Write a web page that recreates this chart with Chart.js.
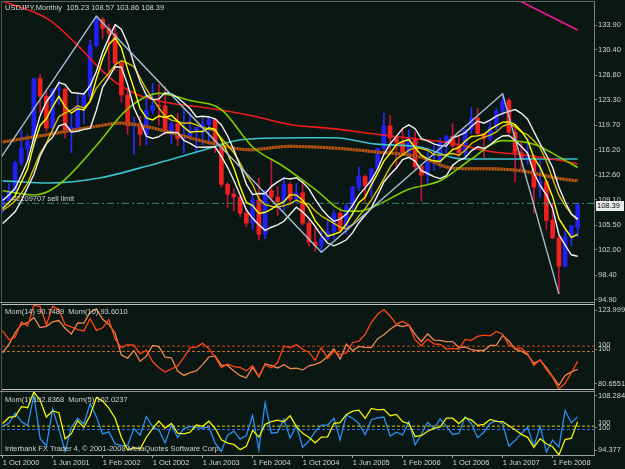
<!DOCTYPE html>
<html>
<head>
<meta charset="utf-8">
<title>USDJPY Monthly</title>
<script src="https://cdn.jsdelivr.net/npm/chart.js@4.4.1/dist/chart.umd.min.js"></script>
<style>
  html, body { margin:0; padding:0; background:#0a1713; }
  #wrap { position:relative; width:625px; height:469px; overflow:hidden; background:#0a1713; }
  #wrap canvas { position:absolute; left:0; }
  .txt { position:absolute; font-family:'Liberation Sans', Arial, sans-serif; font-size:7.5px; line-height:9px; color:#d2d2d2; white-space:pre; }
  .hl { position:absolute; height:1px; }
  .vl { position:absolute; width:1px; }
</style>
</head>
<body>
<div id="wrap">
  <canvas id="cMain" width="625" height="306" style="top:0;width:625px;height:306px"></canvas>
  <canvas id="cMomA" width="625" height="88" style="top:302px;width:625px;height:88px"></canvas>
  <canvas id="cMomB" width="625" height="79" style="top:390px;width:625px;height:79px"></canvas>
  <div class="hl" style="left:2px;top:1px;width:592px;background:#5e6662"></div>
  <div class="vl" style="left:1px;top:1px;height:455px;background:#4c5450"></div>
  <div class="vl" style="left:594px;top:1px;height:455px;background:#7c7c7c"></div>
  <div class="hl" style="left:0;top:302px;width:595px;background:#8e8e8e"></div>
  <div class="hl" style="left:2px;top:304px;width:592px;background:#c0c0c0"></div>
  <div class="hl" style="left:2px;top:389px;width:592px;background:#c0c0c0"></div>
  <div class="hl" style="left:0;top:391px;width:595px;background:#8e8e8e"></div>
  <div class="hl" style="left:0;top:455px;width:595px;background:#a0a0a0"></div>
  <div id="tTitle" class="txt" style="left:5px;top:3px"></div>
  <div id="tOrder" class="txt" style="left:12px;top:194px"></div>
  <div id="tMomA" class="txt" style="left:5px;top:307px"></div>
  <div id="tMomB" class="txt" style="left:5px;top:395px"></div>
  <div id="tCopy" class="txt" style="left:5px;top:444px"></div>
  <div id="tLast" class="txt" style="left:596px;top:201px;width:27px;height:10px;line-height:10px;background:#eeeeee;color:#000;padding-left:1px"></div>
</div>
<script>
// ---------------- DATA (monthly USDJPY, Oct 2000 .. Jun 2008) ----------------
const symbolName = 'USDJPY';
const periodName = 'Monthly';
const orderLabel = '#2109707 sell limit';
const momALabel = 'Mom(14) 90.7489  Mom(10) 93.6010';
const momBLabel = 'Mom(1) 102.8368  Mom(5) 102.0237';
const copyrightLabel = 'Interbank FX Trader 4, \u00A9 2001-2008 MetaQuotes Software Corp.';

const opens = [108.1,108.9,110.4,114.4,116.4,117.4,126.3,123.8,119.3,124.7,
  124.8,118.8,119.4,122.4,123.9,131.0,134.7,133.4,132.7,128.5,
  124.0,119.6,119.9,118.4,121.8,122.5,122.4,118.8,119.9,117.8,
  118.1,118.9,119.4,119.8,120.5,116.9,111.3,109.9,109.5,107.2,
  105.8,109.1,104.2,110.4,109.5,108.8,111.3,109.2,110.1,105.8,
  103.1,102.6,103.6,104.6,107.2,104.8,108.2,110.9,112.4,111.1,
  113.5,116.4,119.6,117.9,117.2,115.8,117.8,113.8,112.6,114.4,
  114.6,117.3,118.1,116.8,115.8,119.1,120.7,118.5,117.8,119.4,
  121.7,123.2,118.7,115.8,114.8,115.3,110.9,111.7,106.2,103.7,
  99.7,103.9,105.23];
const highs = [109.6,111.4,114.6,119.0,118.4,126.3,126.9,124.5,124.9,126.0,
  125.0,121.2,124.0,124.4,131.8,135.15,135.0,134.0,133.8,128.6,
  125.0,120.8,121.0,124.2,125.6,125.5,125.2,120.2,121.4,121.9,
  121.4,119.4,120.7,120.9,120.6,117.0,111.6,110.7,109.6,107.8,
  109.7,112.2,110.5,114.9,111.0,112.3,111.6,111.4,111.6,106.4,
  105.1,104.8,106.4,107.6,108.0,108.6,111.0,113.7,112.7,113.6,
  116.4,121.4,121.1,118.0,119.2,119.0,118.7,114.0,116.5,117.0,
  117.8,118.3,119.9,118.0,119.1,122.2,122.1,118.5,120.1,122.0,
  124.14,123.5,119.8,117.4,117.9,115.4,114.7,111.9,108.6,104.0,
  104.7,105.5,108.57];
const lows = [107.3,108.4,110.0,114.0,114.6,116.5,121.5,118.8,118.6,122.6,
  117.9,115.8,119.3,119.9,123.3,130.8,132.0,126.3,127.5,123.0,
  118.4,115.6,116.8,116.9,121.3,119.7,118.4,117.0,116.8,115.8,
  117.6,115.7,116.9,117.0,115.8,110.9,108.0,107.5,106.7,105.3,
  104.9,103.4,103.6,108.9,106.9,107.5,108.4,108.6,105.5,102.5,
  101.8,101.68,103.4,103.5,104.4,104.2,106.8,110.4,108.8,109.5,
  113.4,116.1,115.7,113.4,115.5,115.0,113.4,108.9,111.4,113.3,
  113.6,115.4,116.3,114.8,115.3,118.5,118.2,115.1,117.5,118.9,
  121.1,118.5,111.6,113.3,114.1,107.2,109.5,104.9,103.6,95.77,
  99.6,102.6,103.86];
const closes = [108.9,110.4,114.4,116.4,117.4,126.3,123.8,119.3,124.7,124.8,
  118.8,119.4,122.4,123.9,131.0,134.7,133.4,132.7,128.5,124.0,
  119.6,119.9,118.4,121.8,122.5,122.4,118.8,119.9,117.8,118.1,
  118.9,119.4,119.8,120.5,116.9,111.3,109.9,109.5,107.2,105.8,
  109.1,104.2,110.4,109.5,108.8,111.3,109.2,110.1,105.8,103.1,
  102.6,103.6,104.6,107.2,104.8,108.2,110.9,112.4,111.1,113.5,
  116.4,119.6,117.9,117.2,115.8,117.8,113.8,112.6,114.4,114.6,
  117.3,118.1,116.8,115.8,119.1,120.7,118.5,117.8,119.4,121.7,
  123.2,118.7,115.8,114.8,115.3,110.9,111.7,106.2,103.7,99.7,
  103.9,105.4,108.39];

// moving averages (one value per month)
const sma5Close = [107.86,108.72,109.70,111.64,113.50,116.98,119.66,120.64,122.30,123.78,
  122.28,121.40,122.02,121.86,123.10,126.28,129.08,131.14,132.06,130.66,
  127.64,124.94,122.08,120.74,120.44,121.00,120.78,121.08,120.28,119.40,
  118.70,118.82,118.80,119.34,119.10,117.58,115.68,113.62,110.96,108.74,
  108.30,107.16,107.34,107.80,108.40,108.84,109.84,109.78,109.04,107.90,
  106.16,105.04,103.94,104.22,104.56,105.68,107.14,108.70,109.48,111.22,
  112.86,114.60,115.70,116.92,117.38,117.66,116.50,115.44,114.88,114.64,
  114.54,115.40,116.24,116.52,117.42,118.10,118.18,118.38,119.10,119.62,
  120.12,120.16,119.76,118.84,117.56,115.10,113.70,111.78,109.56,106.44,
  105.04,103.78,104.22];
const sma8Close = [107.59,108.19,108.96,110.06,111.48,113.58,115.71,117.11,119.09,120.89,
  121.44,121.81,122.44,122.14,123.04,124.96,126.05,127.04,128.25,128.83,
  128.48,127.98,126.40,124.79,123.43,122.14,120.93,120.41,120.19,119.96,
  120.03,119.73,119.39,119.15,118.91,117.84,116.85,115.78,114.31,112.61,
  111.28,109.24,108.43,108.20,108.06,108.29,108.54,109.08,108.66,108.53,
  107.55,106.81,106.29,105.78,105.23,104.99,105.63,106.79,107.85,109.09,
  110.56,112.11,113.75,114.88,115.49,116.16,116.50,116.39,116.14,115.51,
  115.44,115.55,115.68,115.43,116.09,117.10,117.61,118.01,118.28,118.73,
  119.53,119.89,119.48,118.74,118.34,117.48,116.51,114.58,112.14,109.76,
  108.28,107.10,106.24];
const sma5High = [109.00,109.80,110.74,112.60,114.60,117.94,121.04,123.02,124.20,125.72,
  125.46,124.32,124.22,124.12,125.28,127.31,130.07,132.07,133.95,133.31,
  131.29,128.44,125.84,123.92,123.32,123.42,124.30,124.14,123.58,122.84,
  122.02,120.86,120.96,120.86,120.60,119.72,118.16,116.16,113.90,111.34,
  109.88,110.00,109.96,111.02,111.66,112.18,112.06,112.24,111.58,110.66,
  109.22,107.86,106.86,106.06,106.38,107.08,108.32,109.78,110.80,111.92,
  113.48,115.56,117.04,118.10,119.22,119.74,119.20,117.78,117.48,117.04,
  116.80,116.72,117.90,118.20,118.62,119.50,120.26,119.98,120.40,120.98,
  121.37,121.65,121.91,121.37,120.55,118.80,117.04,115.46,113.70,110.92,
  108.80,107.10,106.43];
const sma5Low = [105.74,106.56,107.40,109.00,110.86,112.70,115.32,117.08,118.00,119.60,
  119.88,118.74,118.84,119.10,119.24,121.82,125.06,126.46,127.98,127.92,
  125.44,122.16,120.26,118.14,117.80,118.06,118.62,118.66,118.64,117.54,
  117.12,116.58,116.56,116.60,116.60,115.26,113.72,111.84,109.78,107.68,
  106.48,105.56,104.78,105.22,105.54,106.06,107.06,108.06,107.38,106.50,
  105.36,104.02,102.98,102.58,102.96,103.44,104.46,105.86,106.92,107.94,
  109.78,111.64,112.70,113.62,114.82,115.14,114.60,113.24,112.84,112.40,
  112.12,112.52,114.00,114.68,115.08,116.06,116.62,116.38,116.92,117.64,
  118.16,118.22,117.52,116.68,115.72,112.94,111.14,109.80,107.86,104.19,
  102.67,101.31,101.11];

// slow lines, sampled [month index, price]
const maRedPts = [[0,137.3],[7.5,134.6],[12.8,130.3],[15,128.2],[18.2,125.7],[21.9,123.9],[26.2,122.9],[33,122.1],[39.5,121.1],[45.9,119.8],[52.8,119.2],[59.8,118.4],[66.7,117.7],[71.5,117.2],[78,115.95],[83.2,115.5],[88.6,114.8],[92,114.2]];
const maCyanPts = [[0,111.8],[7.5,111.5],[15.5,112.2],[21.9,113.6],[32.3,116.2],[37.9,117.6],[47.5,117.9],[53,117.9],[59.8,117.0],[66.7,116.6],[73.6,114.9],[82.7,114.9],[92,114.9]];
const maBrownPts = [[0,117.3],[7.5,118.4],[15.5,119.6],[18.7,120.0],[23.5,119.4],[28.3,118.3],[33.1,117.2],[39.5,116.2],[45.9,116.7],[52.8,116.45],[59.8,115.9],[66.7,115.2],[72,113.6],[77.9,113.5],[83.2,113.2],[88.6,112.2],[92,111.8]];
const maGreenPts = [[0,110.4],[5,109.8],[7.5,110.4],[10,112.0],[15,116.8],[20,122.0],[25,124.2],[30,123.2],[35,121.9],[40,116.6],[45,113.8],[50,110.6],[55,107.5],[57,107.5],[60,108.4],[65,110.6],[70,111.8],[75,114.9],[80,117.5],[85,117.0],[90,114.7],[92,113.7]];
const maMagentaPts = [[76,140.3],[92,133.2]];
const zigzagPts = [[-11,101.0],[15,135.15],[51,101.68],[80,124.14],[89,95.77]];
const sellLimitPrice = 108.61;

// momentum indicators
const mom1 = [100.74,101.38,103.62,101.75,100.86,107.58,98.02,96.37,104.53,100.08,
  95.19,100.51,102.51,101.23,105.73,102.82,99.03,99.48,96.83,96.50,
  96.45,100.25,98.75,102.87,100.57,99.92,97.06,100.93,98.25,100.25,
  100.68,100.42,100.34,100.58,97.01,95.21,98.74,99.64,97.90,98.69,
  103.12,95.51,105.95,99.18,99.36,102.30,98.11,100.82,96.09,97.45,
  99.52,100.97,100.97,102.49,97.76,103.24,102.50,101.35,98.84,102.16,
  102.56,102.75,98.58,99.41,98.81,101.73,96.60,98.95,101.60,100.17,
  102.36,100.68,98.90,99.14,102.85,101.34,98.18,99.41,101.36,101.93,
  101.23,96.35,97.56,99.14,100.44,96.18,100.72,95.08,97.65,96.14,
  104.21,101.44,102.84];
const mom5 = [101.21,104.05,104.47,109.09,108.60,115.98,112.14,104.28,107.13,106.30,
  94.06,96.45,102.60,99.36,104.97,113.38,111.73,108.42,103.71,94.66,
  88.79,89.88,89.22,94.79,98.79,102.34,99.08,101.27,96.72,96.41,
  97.14,100.51,99.92,102.29,98.98,93.61,92.04,91.40,88.96,90.50,
  98.02,94.81,100.82,102.15,102.84,102.02,104.80,99.73,96.62,94.76,
  92.18,94.87,95.00,101.32,101.65,105.46,107.05,107.46,103.64,108.30,
  107.58,107.84,104.89,105.49,102.03,101.20,95.15,95.50,97.61,98.96,
  99.58,103.78,103.73,101.22,103.93,102.90,100.34,100.86,103.11,102.18,
  102.07,100.17,98.30,96.15,94.74,90.02,94.10,91.71,90.33,86.47,
  93.69,94.36,102.06];
const mom10 = [106.56,102.79,103.81,110.23,108.50,117.38,116.68,108.95,116.87,115.45,
  109.09,108.15,106.99,106.44,111.58,106.65,107.75,111.23,103.05,99.36,
  100.67,100.42,96.73,98.31,93.51,90.87,89.06,90.35,91.67,95.24,
  99.41,99.58,101.18,98.93,95.43,90.93,92.51,91.33,91.00,89.59,
  91.76,87.27,92.15,90.87,93.07,100.00,99.36,100.55,98.69,97.45,
  94.04,99.42,94.75,97.90,96.32,97.21,101.56,102.09,105.01,110.09,
  113.45,115.44,112.72,109.33,110.50,108.87,102.61,100.18,102.97,100.97,
  100.77,98.75,99.07,98.81,102.85,102.46,104.13,104.62,104.37,106.20,
  105.03,100.51,99.14,99.14,96.81,91.88,94.26,90.15,86.85,81.92,
  84.33,88.80,93.60];
const mom14 = [99.36,103.66,109.58,113.89,114.87,117.60,112.34,112.97,115.25,115.99,
  111.97,109.04,114.71,114.62,120.29,122.01,116.61,114.00,109.45,98.18,
  96.61,100.50,94.95,97.60,103.11,102.51,97.06,96.77,89.92,87.68,
  89.13,89.98,93.23,97.18,97.74,92.83,92.82,89.90,87.51,86.44,
  91.84,86.91,93.72,92.72,91.51,93.22,91.15,91.37,90.50,92.63,
  93.36,94.61,97.57,101.32,96.06,103.84,100.45,102.65,102.11,101.98,
  106.59,108.63,111.44,113.68,112.87,113.71,108.80,105.04,109.16,105.91,
  105.77,105.07,105.13,102.03,102.32,100.92,100.51,100.51,103.11,103.31,
  108.26,105.42,101.22,100.17,98.29,93.90,95.63,91.71,87.07,82.60,
  87.68,89.47,90.78];
const momLevel = 100;

// axis tick labels
const priceTickLabels = ['133.90','130.40','126.80','123.30','119.70','116.20','112.60','109.10','105.50','102.00','98.40','94.90'];
const momATickLabels = ['123.9992','100','80.6551'];
const momBTickLabels = ['108.2845','100','94.377'];
const dateTickLabels = ['1 Oct 2000','1 Jun 2001','1 Feb 2002','1 Oct 2002','1 Jun 2003','1 Feb 2004','1 Oct 2004','1 Jun 2005','1 Feb 2006','1 Oct 2006','1 Jun 2007','1 Feb 2008'];
const dateTickIndex = [0,8,16,24,32,40,48,56,64,72,80,88];

// ---------------- CHART ----------------
Chart.defaults.font.family = "'Liberation Sans', Arial, sans-serif";
Chart.defaults.font.size = 7.5;
Chart.defaults.color = '#d2d2d2';

const X_MIN = -0.1, X_MAX = 94.62, AXIS_W = 31;
const TXT = '#d2d2d2', AXC = '#7c7c7c';
const UP = '#2020f2', DN = '#f22020', UP_WICK = '#2a2aff', DN_WICK = '#c0143c';
const idx = closes.map((_, i) => i);
const series = arr => arr.map((v, i) => ({ x: i, y: v }));
const pts = arr => arr.map(p => ({ x: p[0], y: p[1] }));
const isUp = i => closes[i] >= opens[i];
const flat = v => [{ x: X_MIN, y: v }, { x: X_MAX, y: v }];

const xHidden = { type: 'linear', min: X_MIN, max: X_MAX, display: false, offset: false };

function zeroPad(s) { s.paddingTop = 0; s.paddingBottom = 0; s.paddingLeft = 0; s.paddingRight = 0; }
function rightAxis(min, max, tickVals, labels) {
  return {
    position: 'right', min: min, max: max,
    afterFit: s => { s.width = AXIS_W; zeroPad(s); },
    afterBuildTicks: s => { s.ticks = tickVals.map(v => ({ value: v })); },
    ticks: { callback: (v, i) => labels[i], color: TXT, padding: 1, autoSkip: false, font: { size: 7.5 } },
    grid: { drawOnChartArea: false, drawTicks: true, tickLength: 3, color: AXC },
    border: { display: true, color: AXC }
  };
}
function line(data, color, width, order, extra) {
  return Object.assign({ type: 'line', data: data, borderColor: color, borderWidth: width, pointRadius: 0,
    fill: false, tension: 0, order: order }, extra || {});
}
const smooth = { cubicInterpolationMode: 'monotone' };

const levelLabels = {
  id: 'levelLabels',
  afterDraw(chart, args, opts) {
    if (!opts || !opts.items) return;
    const ctx = chart.ctx;
    ctx.save();
    ctx.font = "7.5px 'Liberation Sans', Arial, sans-serif";
    ctx.fillStyle = TXT; ctx.textAlign = 'left'; ctx.textBaseline = 'middle';
    opts.items.forEach(it => {
      const y = chart.scales[it.axis].getPixelForValue(it.value) + it.dy;
      ctx.fillText(it.text, chart.chartArea.right + 4, y);
    });
    ctx.restore();
  }
};

const common = { responsive: false, animation: false, events: [],
  plugins: { legend: { display: false }, tooltip: { enabled: false } } };

// main price chart
const PRICE_MIN = 94.758, PRICE_MAX = 137.162;
new Chart(document.getElementById('cMain'), {
  type: 'bar',
  data: { datasets: [
    { type: 'bar', data: idx.map(i => ({ x: i, y: [lows[i], highs[i]] })), backgroundColor: c => isUp(c.dataIndex) ? UP_WICK : DN_WICK,
      barThickness: 1, grouped: false, minBarLength: 1, order: 30 },
    { type: 'bar', data: idx.map(i => ({ x: i, y: [opens[i], closes[i]] })), backgroundColor: c => isUp(c.dataIndex) ? UP : DN,
      barThickness: 4, grouped: false, minBarLength: 1, order: 29 },
    line(pts(maBrownPts), '#c0601a', 3, 13, smooth),
    line(pts(maBrownPts), '#7c3508', 3, 12, Object.assign({ borderDash: [1.5, 1.5] }, smooth)),
    line(pts(maCyanPts), '#3cc2cc', 1.6, 11, smooth),
    line(pts(maRedPts), '#f01c1c', 1.6, 10, smooth),
    line(pts(maMagentaPts), '#f0188c', 1.6, 10),
    line(pts(maGreenPts), '#7ccc00', 1.6, 9, smooth),
    line(flat(sellLimitPrice), '#3a8a6c', 1, 8, { borderDash: [7, 3, 2, 3] }),
    line(series(sma8Close), '#d8c000', 1.4, 6),
    line(series(sma5Close), '#ffff00', 1.4, 5),
    line(series(sma5High), '#f2f2f2', 1.4, 4),
    line(series(sma5Low), '#f2f2f2', 1.4, 4),
    line(pts(zigzagPts), '#a2bece', 1.4, 3)
  ] },
  options: Object.assign({}, common, {
    layout: { padding: { left: 2, top: 2, right: 0, bottom: 5 } },
    scales: {
      x: xHidden,
      y: rightAxis(PRICE_MIN, PRICE_MAX, priceTickLabels.map(Number), priceTickLabels)
    }
  })
});

// Mom(14) / Mom(10) panel
const A_MIN = 80.6551, A_MAX = 123.9992, A_H = 84, A_PPU = A_H / (A_MAX - A_MIN);
const A10_MIN = 81.92, A10_MAX = 117.38;
new Chart(document.getElementById('cMomA'), {
  type: 'line',
  data: { datasets: [
    line(flat(momLevel), '#c8401a', 1, 6, { yAxisID: 'y2', borderDash: [3, 2] }),
    line(flat(momLevel), '#c8682e', 1, 5, { yAxisID: 'y', borderDash: [3, 2] }),
    line(series(mom14), '#f08850', 1.3, 2, { yAxisID: 'y' }),
    line(series(mom10), '#ff4612', 1.3, 1, { yAxisID: 'y2' })
  ] },
  plugins: [levelLabels],
  options: Object.assign({}, common, {
    plugins: Object.assign({}, common.plugins, { levelLabels: { items: [{ axis: 'y2', value: momLevel, dy: -1.5, text: '100' }] } }),
    layout: { padding: { left: 2, top: 3, right: 0, bottom: 1 } },
    scales: {
      x: xHidden,
      y: rightAxis(A_MIN, A_MAX, [A_MAX - 5 / A_PPU, momLevel + 2.5 / A_PPU, A_MIN + 5 / A_PPU], momATickLabels),
      y2: { position: 'right', display: false, min: A10_MIN, max: A10_MAX }
    }
  })
});

// Mom(1) / Mom(5) panel with date axis
const B_MIN = 94.377, B_MAX = 108.2845, B_H = 63, B_PPU = B_H / (B_MAX - B_MIN);
const B5_MIN = 86.47, B5_MAX = 115.98;
new Chart(document.getElementById('cMomB'), {
  type: 'line',
  data: { datasets: [
    line(flat(momLevel), '#d4d400', 1, 6, { yAxisID: 'y2', borderDash: [3, 2] }),
    line(flat(momLevel), '#3a6ae8', 1, 5, { yAxisID: 'y', borderDash: [3, 2] }),
    line(series(mom1), '#2a90f0', 1.3, 2, { yAxisID: 'y' }),
    line(series(mom5), '#f4f400', 1.3, 1, { yAxisID: 'y2' })
  ] },
  plugins: [levelLabels],
  options: Object.assign({}, common, {
    plugins: Object.assign({}, common.plugins, { levelLabels: { items: [{ axis: 'y2', value: momLevel, dy: -3, text: '100' }] } }),
    layout: { padding: { left: 2, top: 2, right: 0, bottom: 0 } },
    scales: {
      x: {
        type: 'linear', min: X_MIN, max: X_MAX, offset: false, position: 'bottom',
        afterFit: s => { s.height = 14; zeroPad(s); },
        afterBuildTicks: s => { s.ticks = dateTickIndex.map(v => ({ value: v })); },
        ticks: { callback: (v, i) => dateTickLabels[i], color: TXT, autoSkip: false, maxRotation: 0, minRotation: 0,
          align: 'start', padding: 0, font: { size: 7.5 } },
        grid: { drawOnChartArea: false, drawTicks: true, tickLength: 3, color: '#a0a0a0' },
        border: { display: true, color: '#a0a0a0' }
      },
      y: rightAxis(B_MIN, B_MAX, [B_MAX - 3.5 / B_PPU, momLevel + 1.8 / B_PPU, B_MIN + 5 / B_PPU], momBTickLabels),
      y2: { position: 'right', display: false, min: B5_MIN, max: B5_MAX }
    }
  })
});

// texts
const last = closes.length - 1;
document.getElementById('tTitle').textContent = symbolName + ',' + periodName + '  ' +
  [opens[last], highs[last], lows[last], closes[last]].map(v => v.toFixed(2)).join(' ');
document.getElementById('tOrder').textContent = orderLabel;
document.getElementById('tMomA').textContent = momALabel;
document.getElementById('tMomB').textContent = momBLabel;
document.getElementById('tCopy').textContent = copyrightLabel;
document.getElementById('tLast').textContent = closes[last].toFixed(2);
</script>
</body>
</html>
